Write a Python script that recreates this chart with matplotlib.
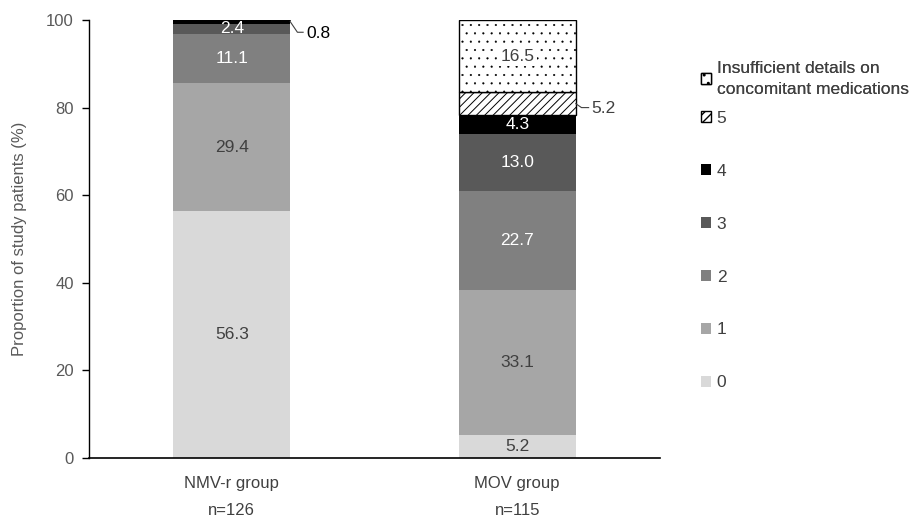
import matplotlib
matplotlib.use("Agg")
import matplotlib.pyplot as plt
import numpy as np

plt.rcParams['font.family'] = ['Liberation Sans', 'DejaVu Sans']

groups = ["NMV-r group\nn=126", "MOV group\nn=115"]
categories = ["0", "1", "2", "3", "4", "5", "Insufficient details on\nconcomitant medications"]
nmv_values = [56.3, 29.4, 11.1, 2.4, 0.8, 0.0, 0.0]
mov_values = [5.2, 33.1, 22.7, 13.0, 4.3, 5.2, 16.5]

colors = ["#d9d9d9", "#a6a6a6", "#808080", "#595959", "#000000", "#ffffff", "#ffffff"]
hatches = [None, None, None, None, None, "////", ".."]
hatch_lw = [0.8, 0.8, 0.8, 0.8, 0.8, 0.7, 0.3]
label_colors = ["#404040", "#404040", "white", "white", "white", "#404040", "#404040"]

fig = plt.figure(figsize=(9.22, 5.19), dpi=100)
ax = fig.add_axes([89/922, 1 - 458/519, (660-89)/922, (458-20)/519])

x = np.arange(len(groups))
width = 0.41
bottoms = np.zeros(len(groups))
data = np.array([nmv_values, mov_values]).T  # categories x groups
handles = []
for i, cat in enumerate(categories):
    vals = data[i]
    hatched = hatches[i] is not None
    with plt.rc_context({'hatch.linewidth': hatch_lw[i]}):
        bars = ax.bar(x, vals, width, bottom=bottoms, color=colors[i],
                      hatch=hatches[i], edgecolor="black" if hatched else colors[i],
                      linewidth=1.0 if hatched else 0, label=cat, zorder=2)
    handles.append(bars)
    for j, v in enumerate(vals):
        if v <= 0:
            continue
        yc = bottoms[j] + v / 2
        if v >= 2.0 and i != 5:
            ax.text(x[j], yc, f"{v:.1f}", ha="center", va="center",
                    color=label_colors[i], fontsize=12.5,
                    bbox=dict(facecolor="white", edgecolor="none", pad=2) if i == 6 else None,
                    zorder=3)
        else:
            xr = x[j] + width / 2
            if i == 4:
                ax.plot([xr, xr + 0.025, xr + 0.045], [yc, yc - 2.4, yc - 2.4],
                        color="#404040", lw=0.8, clip_on=False, zorder=3)
                ax.text(xr + 0.055, yc - 2.6, f"{v:.1f}", ha="left", va="center",
                        color="black", fontsize=12.5)
            else:
                ax.plot([xr, xr + 0.02, xr + 0.045], [yc, yc - 0.9, yc - 0.9],
                        color="#404040", lw=0.8, clip_on=False, zorder=3)
                ax.text(xr + 0.055, yc - 1.0, f"{v:.1f}", ha="left", va="center",
                        color="#404040", fontsize=12.5)
    bottoms += vals

ax.set_xlim(-0.5, 1.5)
ax.set_ylim(0, 100)
ax.set_yticks(np.arange(0, 101, 20))
ax.set_xticks(x)
ax.set_xticklabels(groups, linespacing=2.0, color="#404040", fontsize=12)
ax.tick_params(axis="x", length=0, pad=13)
ax.tick_params(axis="y", length=5, width=1, colors="black", labelcolor="#595959",
               labelsize=12, pad=6)
for s in ["top", "right"]:
    ax.spines[s].set_visible(False)
ax.spines["left"].set_linewidth(1)
ax.spines["bottom"].set_linewidth(1.2)
ax.set_ylabel("Proportion of study patients (%)", color="#595959", fontsize=12, labelpad=14)

common = dict(loc="upper left", frameon=False, fontsize=12.5, handlelength=0.6,
              handleheight=0.6, handletextpad=0.3, borderaxespad=0, borderpad=0)
leg1 = fig.legend([handles[6]], [categories[6]],
                  bbox_to_anchor=(701/922, 1 - 61/519), **common)
for t in leg1.get_texts():
    t.set_color("#404040")
    t.set_linespacing(1.5)
fig.add_artist(leg1)
leg2 = fig.legend(handles[5::-1], categories[5::-1],
                  bbox_to_anchor=(701/922, 1 - 111/519), labelspacing=2.18, **common)
for t in leg2.get_texts():
    t.set_color("#404040")

fig.savefig("out.png", dpi=100)
